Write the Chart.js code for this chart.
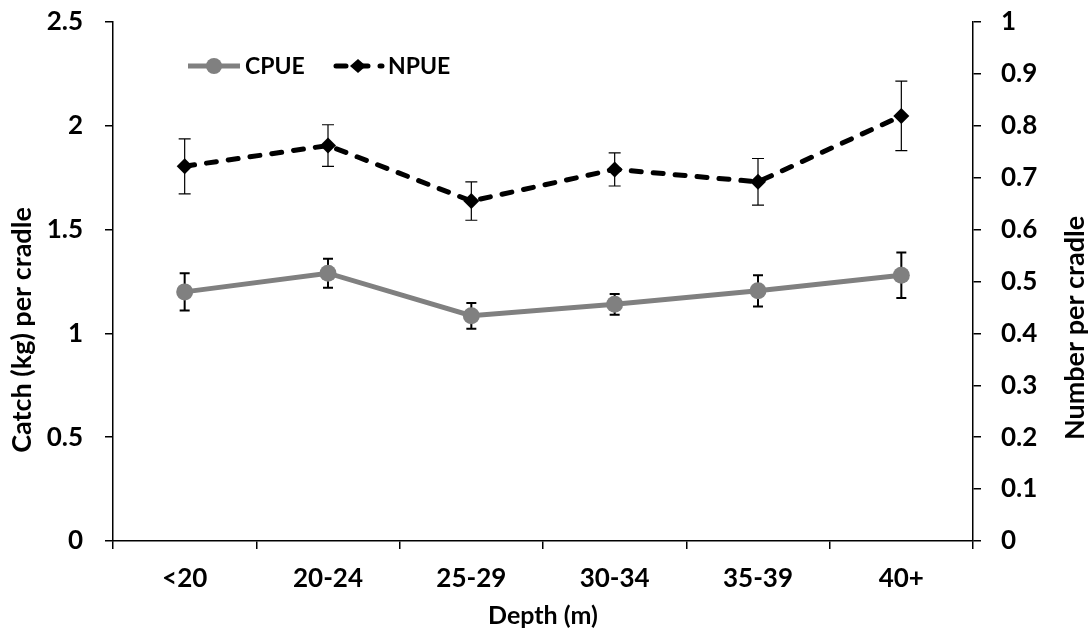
<!DOCTYPE html>
<html lang="en">
<head>
    <meta charset="UTF-8"/>
    <title>CPUE and NPUE by depth</title>
    <script src="https://cdn.jsdelivr.net/npm/chart.js"></script>
    <style>
        body { margin: 0; background: #fff; }
        canvas { display: block; }
    </style>
</head>
<body>
    <canvas id="depthChart" width="1092" height="631"></canvas>
    <script>
        // data
        const categories = ['<20', '20-24', '25-29', '30-34', '35-39', '40+'];
        const cpueValues = [1.20, 1.29, 1.085, 1.14, 1.205, 1.28];
        const cpueErrors = [0.09, 0.07, 0.062, 0.05, 0.075, 0.11];
        const npueValues = [0.722, 0.762, 0.655, 0.716, 0.692, 0.819];
        const npueErrors = [0.053, 0.04, 0.037, 0.032, 0.045, 0.067];
        const leftTicks = [0, 0.5, 1, 1.5, 2, 2.5];
        const rightTicks = [0, 0.1, 0.2, 0.3, 0.4, 0.5, 0.6, 0.7, 0.8, 0.9, 1];

        const FONT = 'Lato, "DejaVu Sans", sans-serif';
        const tickFont = { family: FONT, size: 26, weight: 'bold' };
        const fmt = v => String(Math.round(v * 100) / 100);

        // vertical error bars, drawn under the markers
        const errorBars = {
            id: 'errorBars',
            beforeDatasetsDraw(chart) {
                const ctx = chart.ctx;
                chart.data.datasets.forEach((ds, i) => {
                    const meta = chart.getDatasetMeta(i);
                    const yScale = chart.scales[ds.yAxisID];
                    ctx.save();
                    ctx.strokeStyle = '#000';
                    ctx.lineWidth = ds.errWidth;
                    meta.data.forEach((pt, j) => {
                        const top = yScale.getPixelForValue(ds.data[j] + ds.errors[j]);
                        const bot = yScale.getPixelForValue(ds.data[j] - ds.errors[j]);
                        const w = ds.capHalf;
                        ctx.beginPath();
                        ctx.moveTo(pt.x, top); ctx.lineTo(pt.x, bot);
                        ctx.moveTo(pt.x - w, top); ctx.lineTo(pt.x + w, top);
                        ctx.moveTo(pt.x - w, bot); ctx.lineTo(pt.x + w, bot);
                        ctx.stroke();
                    });
                    ctx.restore();
                });
            }
        };

        // legend inside the plot + the two rotated axis titles
        const extras = {
            id: 'extras',
            afterDraw(chart) {
                const ctx = chart.ctx;
                const ly = 66;
                ctx.save();
                // CPUE sample
                ctx.strokeStyle = '#808080';
                ctx.lineWidth = 5;
                ctx.beginPath(); ctx.moveTo(188, ly); ctx.lineTo(240, ly); ctx.stroke();
                ctx.fillStyle = '#808080';
                ctx.beginPath(); ctx.arc(214, ly, 8, 0, Math.PI * 2); ctx.fill();
                // NPUE sample
                ctx.strokeStyle = '#000';
                ctx.setLineDash([10, 12]);
                ctx.lineCap = 'round';
                ctx.beginPath(); ctx.moveTo(336, ly); ctx.lineTo(382, ly); ctx.stroke();
                ctx.setLineDash([]);
                ctx.fillStyle = '#000';
                ctx.beginPath();
                ctx.moveTo(358, ly - 7); ctx.lineTo(366, ly); ctx.lineTo(358, ly + 7); ctx.lineTo(350, ly);
                ctx.closePath(); ctx.fill();

                ctx.font = 'bold 23px ' + FONT;
                ctx.textBaseline = 'middle';
                ctx.textAlign = 'left';
                ctx.fillText('CPUE', 245, ly + 1);
                ctx.fillText('NPUE', 388, ly + 1);

                ctx.font = 'bold 27px ' + FONT;
                ctx.textAlign = 'center';
                ctx.translate(22, 330);
                ctx.rotate(-Math.PI / 2);
                ctx.fillText('Catch (kg) per cradle', 0, 0);
                ctx.restore();

                ctx.save();
                ctx.font = 'bold 27px ' + FONT;
                ctx.textAlign = 'center';
                ctx.textBaseline = 'middle';
                ctx.fillStyle = '#000';
                ctx.translate(1075, 328);
                ctx.rotate(-Math.PI / 2);
                ctx.fillText('Number per cradle', 0, 0);
                ctx.restore();
            }
        };

        const axisGrid = { drawOnChartArea: false, drawTicks: true, tickLength: 8, color: '#000', lineWidth: 1.5 };

        // fixed box sizes so the plot area sits where it does in the figure
        function fitVertical(width) {
            return scale => {
                scale.width = width;
                scale.paddingTop = 0;
                scale.paddingBottom = 0;
            };
        }

        new Chart(document.getElementById('depthChart'), {
            type: 'line',
            data: {
                labels: categories,
                datasets: [{
                    label: 'CPUE',
                    data: cpueValues,
                    errors: cpueErrors,
                    errWidth: 2,
                    capHalf: 5,
                    yAxisID: 'y',
                    borderColor: '#808080',
                    backgroundColor: '#808080',
                    borderWidth: 5,
                    pointStyle: 'circle',
                    pointRadius: 8.5,
                    pointBorderWidth: 0,
                    pointBackgroundColor: '#808080',
                    tension: 0
                }, {
                    label: 'NPUE',
                    data: npueValues,
                    errors: npueErrors,
                    errWidth: 1.2,
                    capHalf: 6,
                    yAxisID: 'y1',
                    borderColor: '#000',
                    backgroundColor: '#000',
                    borderWidth: 5,
                    borderDash: [10, 12],
                    borderCapStyle: 'round',
                    pointStyle: 'rectRot',
                    pointRadius: 8,
                    pointBorderWidth: 0,
                    pointBackgroundColor: '#000',
                    tension: 0
                }]
            },
            options: {
                responsive: false,
                animation: false,
                layout: { padding: { top: 22, left: 0, right: 0, bottom: 0 } },
                plugins: {
                    legend: { display: false },
                    tooltip: { enabled: false }
                },
                scales: {
                    x: {
                        offset: true,
                        grid: { ...axisGrid, offset: true },
                        border: { color: '#000', width: 1.5 },
                        ticks: { color: '#000', font: tickFont, padding: 14, maxRotation: 0 },
                        title: { display: true, text: 'Depth (m)', color: '#000', font: { family: FONT, size: 25, weight: 'bold' }, padding: { top: 0, bottom: 0 } },
                        afterFit(scale) { scale.height = 90; }
                    },
                    y: {
                        position: 'left',
                        min: 0, max: 2.5,
                        grid: axisGrid,
                        border: { color: '#000', width: 1.5 },
                        ticks: { color: '#000', font: tickFont, padding: 22, callback: fmt },
                        afterBuildTicks(scale) { scale.ticks = leftTicks.map(v => ({ value: v })); },
                        afterFit: fitVertical(113)
                    },
                    y1: {
                        position: 'right',
                        min: 0, max: 1,
                        grid: axisGrid,
                        border: { color: '#000', width: 1.5 },
                        ticks: { color: '#000', font: tickFont, padding: 20, callback: fmt },
                        afterBuildTicks(scale) { scale.ticks = rightTicks.map(v => ({ value: v })); },
                        afterFit: fitVertical(119)
                    }
                }
            },
            plugins: [errorBars, extras]
        });
    </script>
</body>
</html>
